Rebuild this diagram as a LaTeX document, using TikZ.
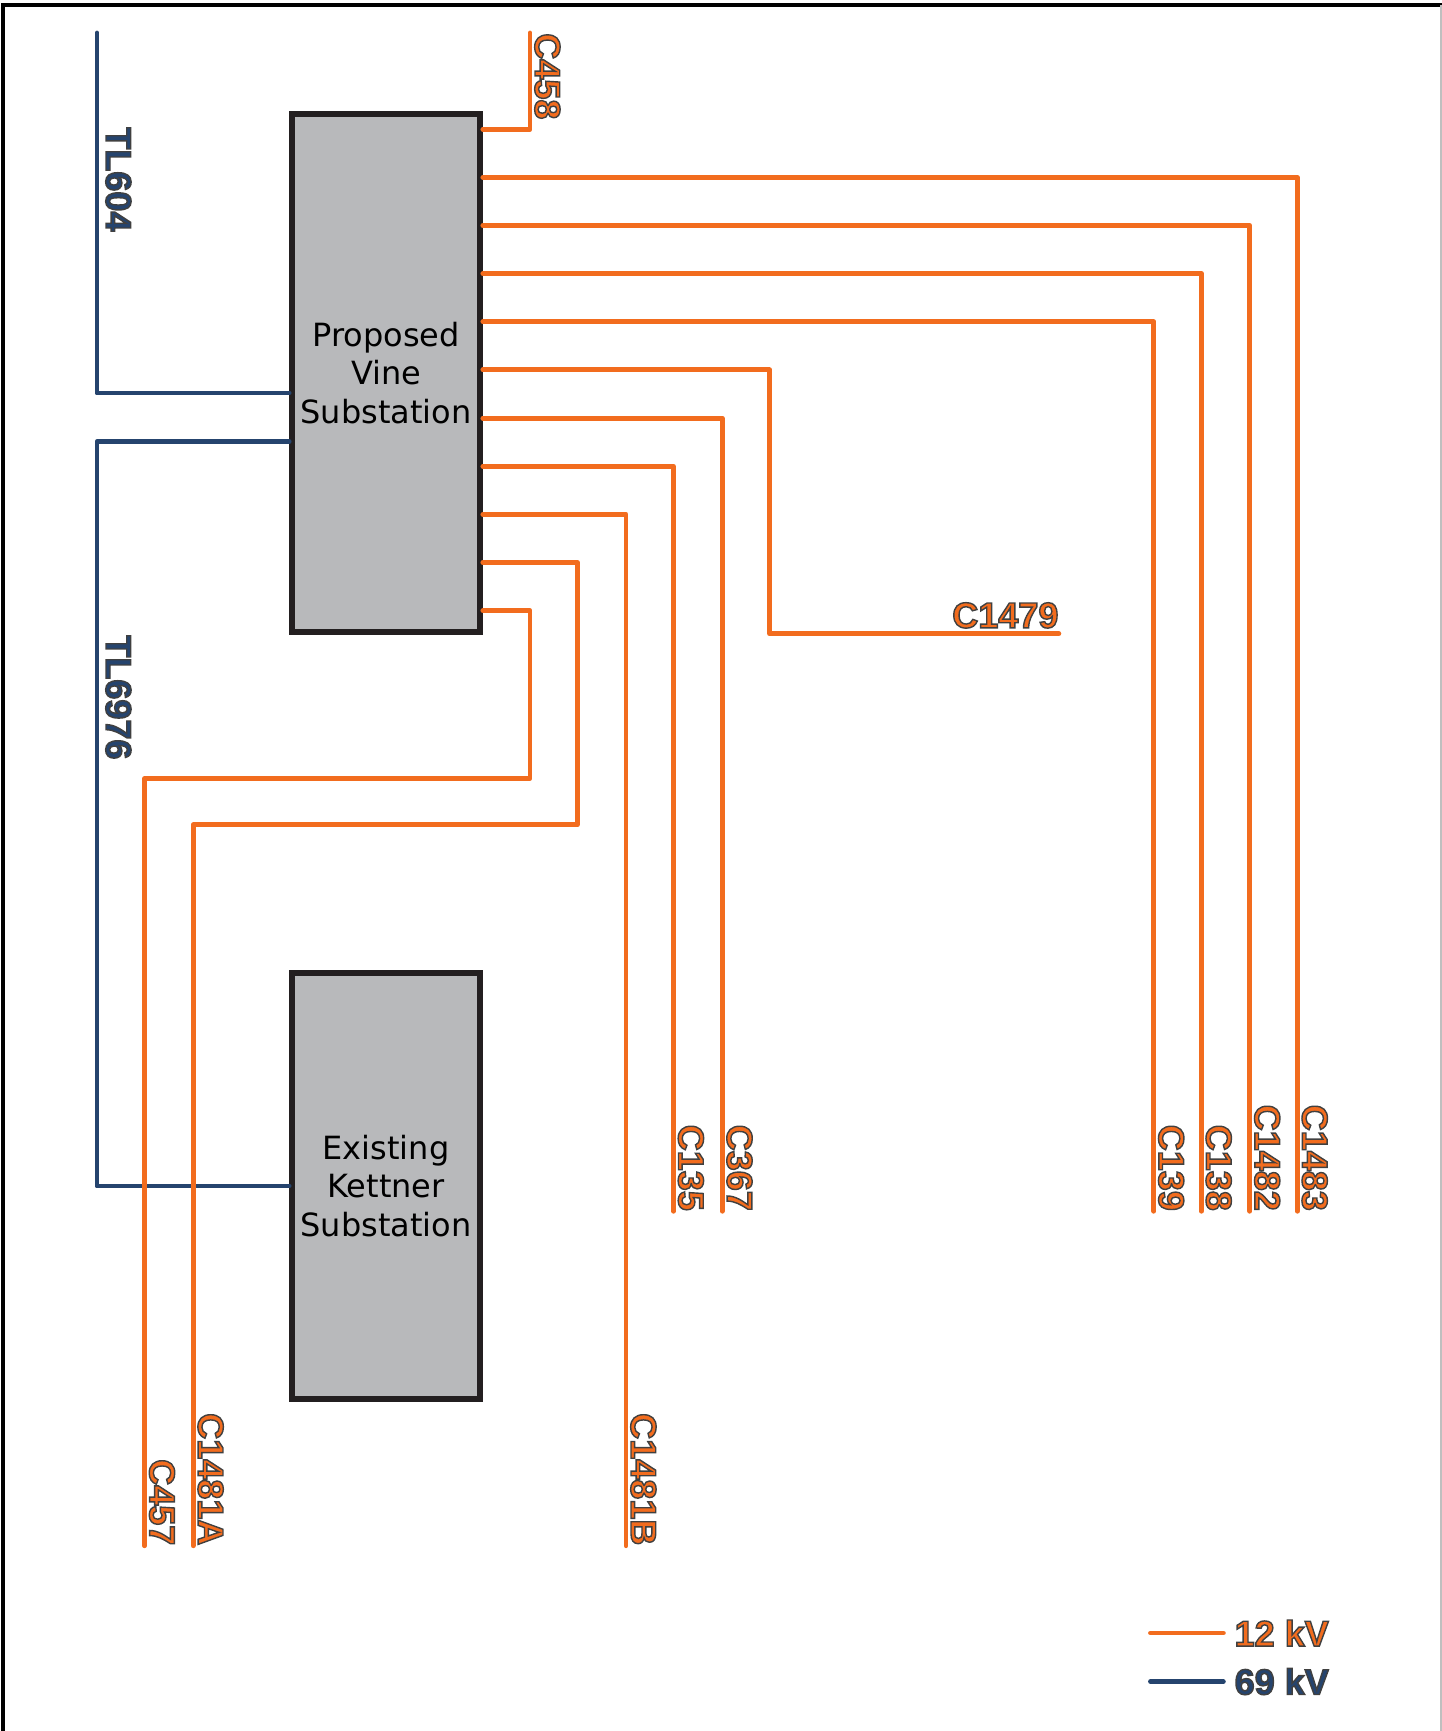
\documentclass[tikz,border=0pt]{standalone}
\usepackage{fontspec}
\setmainfont{DejaVu Sans}
\newfontfamily\labelfont{Liberation Sans}
\usetikzlibrary{positioning,calc}
\definecolor{feedorange}{HTML}{F26C1E}
\definecolor{tlblue}{HTML}{25446E}
\definecolor{subgray}{HTML}{B8B9BB}
\definecolor{subedge}{HTML}{231F20}
% thin dark rim round the line labels
\newcommand{\outlined}[1]{\special{pdf:literal direct 2 Tr 0.8 w 0.25 0.25 0.25 RG}#1\special{pdf:literal direct 0 Tr}}

\begin{document}
\begin{tikzpicture}[x=0.02cm, y=-0.02cm,
    substation/.style={draw=subedge, fill=subgray, line width=3.3pt, minimum width=3.76cm, minimum height=10.37cm, inner sep=0pt, align=center, font=\fontsize{18.2}{22}\selectfont},
    feeder/.style={draw=feedorange, line width=2.8pt, line join=round, line cap=round},
    tlline/.style={draw=tlblue, line width=2.8pt, line join=round, line cap=round},
    flabel/.style={font=\labelfont\bfseries\fontsize{20.5}{24}\selectfont, text=feedorange, inner sep=0pt},
    tllabel/.style={flabel, text=tlblue}
]
\useasboundingbox (0,0) rectangle (1442,1731);

% frame
\draw[line width=2.3pt] (3,1731) -- (3,5) -- (1442,5);
\draw[black!25, line width=0.6pt] (1441,5) -- (1441,1731);

\node[substation] (vine) at (386,373) {Proposed\\Vine\\Substation};
\node[substation, minimum height=8.53cm] (kettner) at (386,1186) {Existing\\Kettner\\Substation};

% 69 kV lines
\coordinate (tl604top) at (97,33);
\coordinate (tl6976bend) at (97,441.6);
\draw[tlline] ($(vine.west)+(0,20)$) -| (tl604top);
\draw[tlline] ($(vine.west)+(0,68.6)$) -- (tl6976bend) |- (kettner.west);
\node[tllabel, rotate=-90, anchor=base west] (tl604) at (106,127) {\outlined{TL604}};
\node[tllabel, rotate=-90, anchor=base west] (tl6976) at (106,635) {\outlined{TL6976}};

% taps along the east side of the vine box
\foreach \k in {0,...,10}
  \coordinate (tap\k) at ($(vine.east)+(0,{-243.8+48.15*\k})$);

% 12 kV feeders
\coordinate (endC458) at (530,33);
\draw[feeder] (tap0) -| (endC458);
\node[flabel, rotate=-90, anchor=base west] (C458) at ($(endC458)+(5,0)$) {\outlined{C458}};

\foreach \k/\x/\name in {1/1297.3/C1483, 2/1249.8/C1482, 3/1201.3/C138, 4/1153.8/C139, 6/722.1/C367, 7/673.5/C135}{
  \coordinate (end\name) at (\x,1211.2);
  \draw[feeder] (tap\k) -| (end\name);
  \node[flabel, rotate=-90, anchor=base east] (\name) at ($(end\name)+(5,0)$) {\outlined{\name}};
}

\coordinate (bendC1479) at (769.6,633.8);
\coordinate (endC1479) at (1058.8,633.8);
\draw[feeder] (tap5) -| (bendC1479) -- (endC1479);
\node[flabel, anchor=base east] (C1479) at ($(endC1479)+(0,-6)$) {\outlined{C1479}};

\coordinate (endC1481B) at (626,1545.7);
\draw[feeder] (tap8) -| (endC1481B);
\node[flabel, rotate=-90, anchor=base east] (C1481B) at ($(endC1481B)+(5,0)$) {\outlined{C1481B}};

\coordinate (bendC1481A) at (577.4,824.8);
\coordinate (endC1481A) at (193.2,1545.7);
\draw[feeder] (tap9) -| (bendC1481A) -| (endC1481A);
\node[flabel, rotate=-90, anchor=base east] (C1481A) at ($(endC1481A)+(5,0)$) {\outlined{C1481A}};

\coordinate (bendC457) at (530,778.4);
\coordinate (endC457) at (144.6,1545.7);
\draw[feeder] (tap10) -| (bendC457) -| (endC457);
\node[flabel, rotate=-90, anchor=base east] (C457) at ($(endC457)+(5,0)$) {\outlined{C457}};

% legend
\coordinate (leg12a) at (1150.5,1633);
\coordinate (leg12b) at (1223.3,1633);
\coordinate (leg69a) at (1150.5,1681.6);
\coordinate (leg69b) at (1223.3,1681.6);
\draw[feeder] (leg12a) -- (leg12b);
\draw[tlline] (leg69a) -- (leg69b);
\node[flabel, anchor=west] (leg12) at ($(leg12b)+(11,0)$) {\outlined{12 kV}};
\node[tllabel, anchor=west] (leg69) at ($(leg69b)+(11,0)$) {\outlined{69 kV}};
\end{tikzpicture}
\end{document}
